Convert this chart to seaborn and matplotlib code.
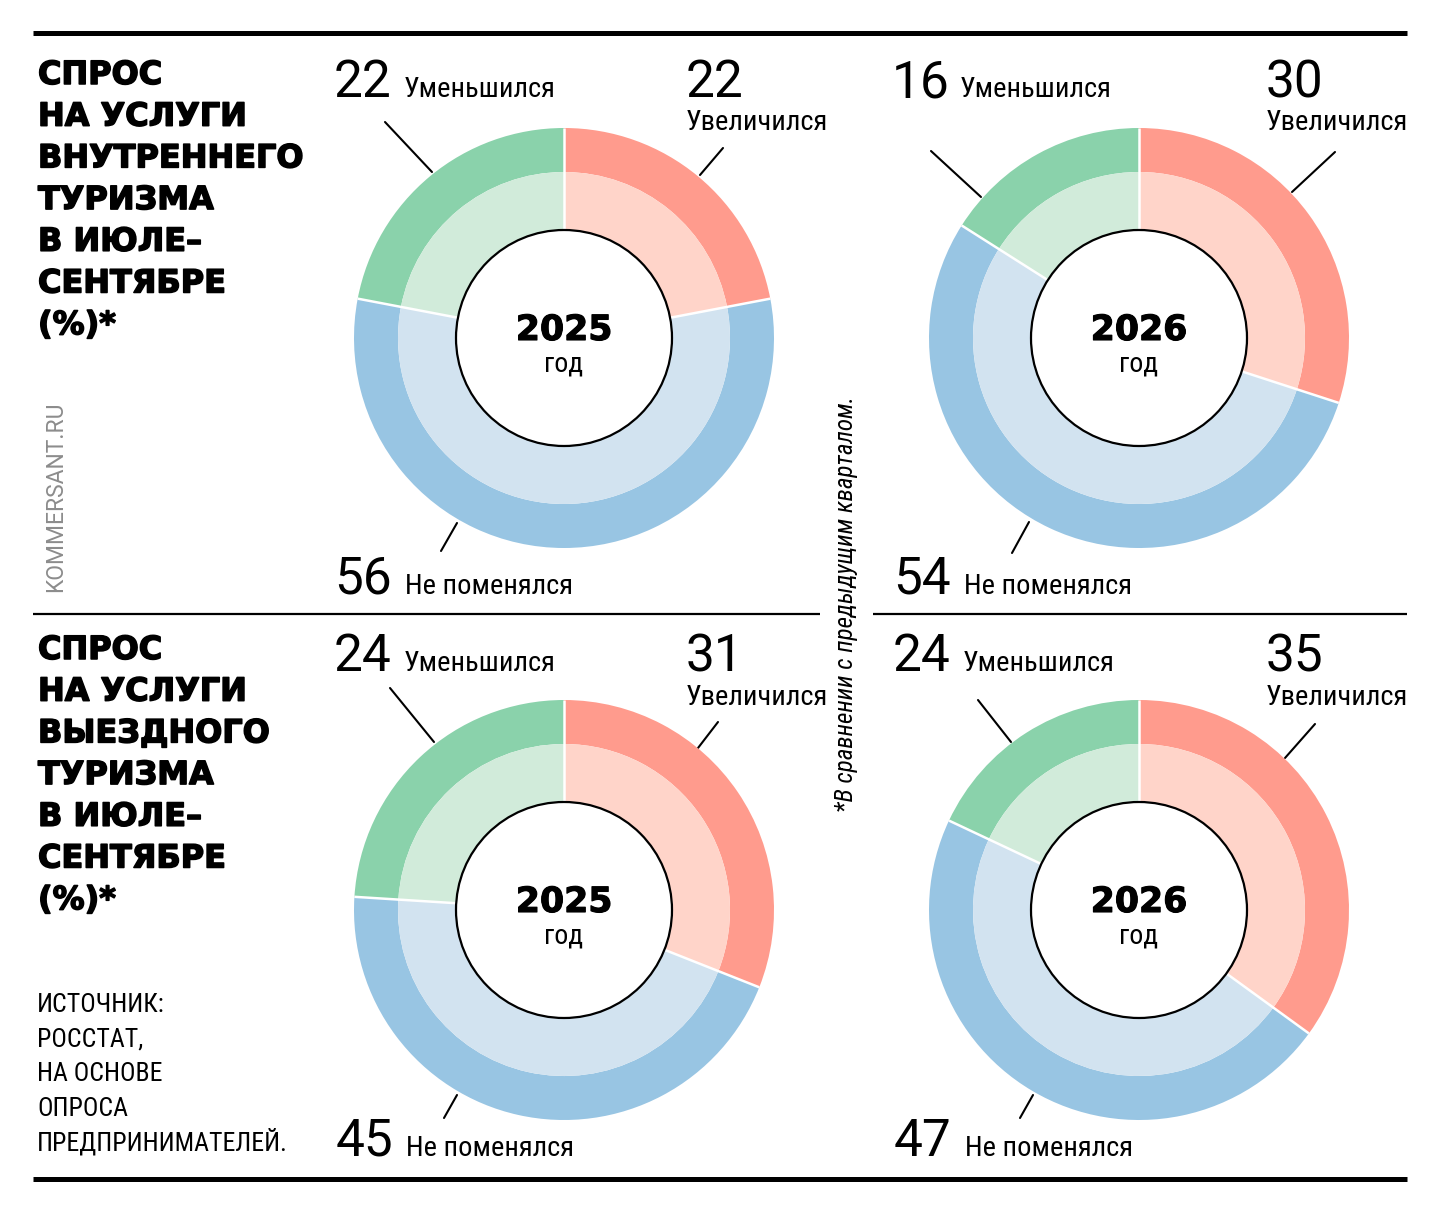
import numpy as np
import matplotlib
matplotlib.use("Agg")
import matplotlib.pyplot as plt
from matplotlib import font_manager as fm
from matplotlib import patheffects as pe
from matplotlib.patches import Circle
import seaborn as sns

years = ["2025", "2026"]
domestic_up = [22, 30]
domestic_same = [56, 54]
domestic_down = [22, 16]
outbound_up = [31, 35]
outbound_same = [45, 47]
outbound_down = [24, 24]

label_up = "Увеличился"
label_same = "Не поменялся"
label_down = "Уменьшился"

title_dom = ["СПРОС", "НА УСЛУГИ", "ВНУТРЕННЕГО", "ТУРИЗМА", "В ИЮЛЕ–", "СЕНТЯБРЕ", "(%)*"]
title_out = ["СПРОС", "НА УСЛУГИ", "ВЫЕЗДНОГО", "ТУРИЗМА", "В ИЮЛЕ–", "СЕНТЯБРЕ", "(%)*"]
source_lines = ["ИСТОЧНИК:", "РОССТАТ,", "НА ОСНОВЕ", "ОПРОСА", "ПРЕДПРИНИМАТЕЛЕЙ."]
note = "*В сравнении с предыдущим кварталом."

outer_cols = ["#FF9B8D", "#98C5E3", "#8AD2AB"]
inner_cols = ["#FFD4C9", "#D2E3F0", "#D1EBDA"]

sns.set_theme(style="white")
plt.rcParams["text.color"] = "black"

names = {f.name for f in fm.fontManager.ttflist}
def pick(*cands):
    for c in cands:
        if c in names:
            return c
    return "DejaVu Sans"

COND = pick("Roboto Condensed", "Liberation Sans Narrow", "Open Sans Condensed", "Liberation Sans")
REG = pick("Roboto", "Liberation Sans", "DejaVu Sans")
HEAVY = "DejaVu Sans"
fat = [pe.withStroke(linewidth=1.1, foreground="black")]
fat_year = [pe.withStroke(linewidth=0.8, foreground="black")]

W, H = 1440, 1213
fig = plt.figure(figsize=(W / 100, H / 100), dpi=100)
fig.patch.set_facecolor("white")

bg = fig.add_axes([0, 0, 1, 1])
bg.set_xlim(0, W)
bg.set_ylim(H, 0)
bg.axis("off")

# rules
bg.plot([33, 1407], [33, 33], color="black", lw=3.6, solid_capstyle="butt")
bg.plot([33, 1407], [1179, 1179], color="black", lw=3.6, solid_capstyle="butt")
bg.plot([33, 820], [614, 614], color="black", lw=1.6, solid_capstyle="butt")
bg.plot([873, 1407], [614, 614], color="black", lw=1.6, solid_capstyle="butt")

# titles
for i, s in enumerate(title_dom):
    bg.text(38, 84 + i * 41.7, s, fontsize=23, fontweight="bold", family=HEAVY,
            va="baseline", ha="left", path_effects=fat)
for i, s in enumerate(title_out):
    bg.text(38, 659 + i * 41.7, s, fontsize=23, fontweight="bold", family=HEAVY,
            va="baseline", ha="left", path_effects=fat)
for i, s in enumerate(source_lines):
    bg.text(37, 1012 + i * 34.7, s, fontsize=18.5, family=COND, va="baseline", ha="left")

bg.text(56, 497, "KOMMERSANT.RU", fontsize=16.5, family=REG, color="#8C8C8C",
        rotation=90, ha="center", va="center")
bg.text(846, 604, note, fontsize=18, family=COND, style="italic",
        rotation=90, ha="center", va="center")

charts = [
    dict(c=(564, 338), vals=[domestic_up[0], domestic_same[0], domestic_down[0]], year=years[0]),
    dict(c=(1139, 338), vals=[domestic_up[1], domestic_same[1], domestic_down[1]], year=years[1]),
    dict(c=(564, 910), vals=[outbound_up[0], outbound_same[0], outbound_down[0]], year=years[0]),
    dict(c=(1139, 910), vals=[outbound_up[1], outbound_same[1], outbound_down[1]], year=years[1]),
]

# label anchors (pixels): number x, name x, baseline for down / up / same
lab_pos = [
    dict(down=(334, 404, 97), up=(686, 97, 130), same=(334, 405, 594)),
    dict(down=(892, 960, 97), up=(1266, 97, 130), same=(893, 964, 594)),
    dict(down=(334, 404, 671), up=(686, 672, 705), same=(336, 406, 1156)),
    dict(down=(893, 963, 671), up=(1266, 672, 705), same=(894, 965, 1156)),
]
leaders = [
    [((723, 148), (700, 175)), ((457, 523), (441, 551)), ((385, 122), (432, 172))],
    [((1335, 152), (1292, 192)), ((1029, 522), (1012, 553)), ((931, 151), (981, 197))],
    [((718, 722), (698, 748)), ((457, 1095), (444, 1118)), ((390, 688), (434, 742))],
    [((1315, 724), (1285, 758)), ((1033, 1095), (1020, 1118)), ((978, 700), (1011, 742))],
]

R_OUT, R_MID, R_IN = 1.0, 166 / 210, 108 / 210
S = 480
L = S / 2 / 210

for ch, lp, ld in zip(charts, lab_pos, leaders):
    cx, cy = ch["c"]
    ax = fig.add_axes([(cx - S / 2) / W, (H - cy - S / 2) / H, S / W, S / H])
    fr = np.array(ch["vals"], dtype=float) / 100
    # as in the source graphic, the last wedge takes whatever is left of the circle
    if fr.sum() > 1:
        fr[-1] = 1 - fr[:-1].sum()
    ax.pie(fr, radius=R_OUT, colors=outer_cols, startangle=90, counterclock=False,
           normalize=False, wedgeprops=dict(width=R_OUT - R_MID, linewidth=0))
    ax.pie(fr, radius=R_MID, colors=inner_cols, startangle=90, counterclock=False,
           normalize=False, wedgeprops=dict(width=R_MID - R_IN, linewidth=0))
    cum = np.concatenate([[0], np.cumsum(fr)[:-1]])
    for c in cum:
        th = np.deg2rad(90 - 360 * c)
        ax.plot([R_IN * np.cos(th), R_OUT * np.cos(th)], [R_IN * np.sin(th), R_OUT * np.sin(th)],
                color="white", lw=1.8, solid_capstyle="butt", zorder=4)
    ax.add_patch(Circle((0, 0), R_IN, facecolor="white", edgecolor="black", lw=1.6, zorder=5))
    ax.text(0, -2 / 210, ch["year"], fontsize=25, fontweight="bold", family=HEAVY,
            ha="center", va="baseline", zorder=6, path_effects=fat_year)
    ax.text(0, -34 / 210, "год", fontsize=20, family=COND, ha="center", va="baseline", zorder=6)
    ax.set_xlim(-L, L)
    ax.set_ylim(-L, L)
    ax.set_aspect("equal")
    ax.axis("off")

    up, same, down = ch["vals"]
    nx, tx, by = lp["down"]
    bg.text(nx, by, str(down), fontsize=37, family=REG, va="baseline", ha="left")
    bg.text(tx, by, label_down, fontsize=20.5, family=COND, va="baseline", ha="left")
    nx, by1, by2 = lp["up"]
    bg.text(nx, by1, str(up), fontsize=37, family=REG, va="baseline", ha="left")
    bg.text(nx, by2, label_up, fontsize=20.5, family=COND, va="baseline", ha="left")
    nx, tx, by = lp["same"]
    bg.text(nx, by, str(same), fontsize=37, family=REG, va="baseline", ha="left")
    bg.text(tx, by, label_same, fontsize=20.5, family=COND, va="baseline", ha="left")

    for (p0, p1) in ld:
        bg.plot([p0[0], p1[0]], [p0[1], p1[1]], color="black", lw=1.5)

fig.savefig("out.png", dpi=100, facecolor="white")
